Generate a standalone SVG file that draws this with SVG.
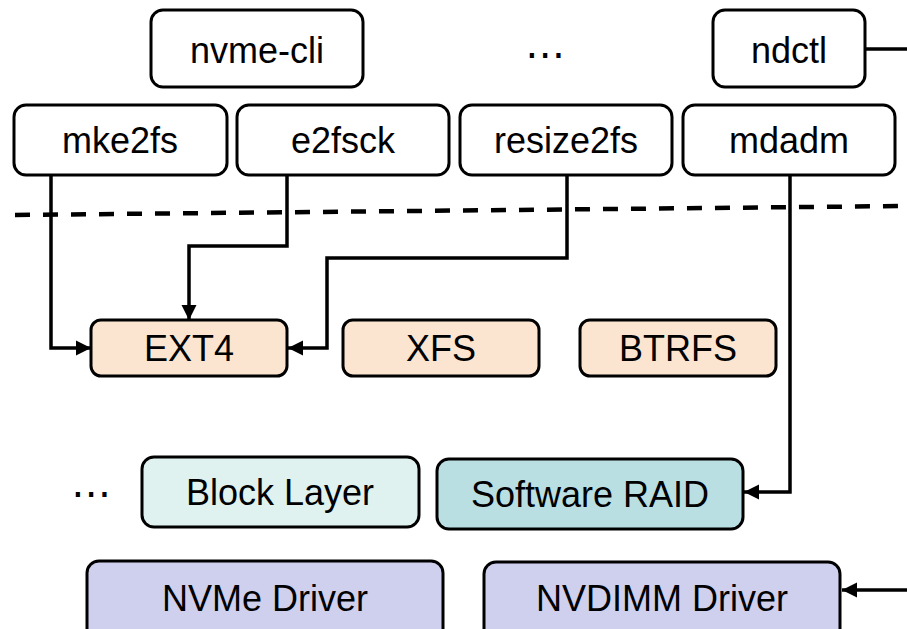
<svg xmlns="http://www.w3.org/2000/svg" width="907" height="629" viewBox="0 0 907 629">
  <style>
    .box { stroke: #000; stroke-width: 3; }
    .tool { fill: #fff; }
    .fs { fill: #FBE5D0; }
    .blk { fill: #DFF2F0; }
    .raid { fill: #B9DFE2; }
    .drv { fill: #CFCFEE; }
    text { font-family: "Liberation Sans", Arial, "DejaVu Sans", sans-serif; font-size: 36px; fill: #000; text-anchor: middle; }
    .dots { font-size: 40px; }
    .wire { fill: none; stroke: #000; stroke-width: 3.5; }
    .dash { fill: none; stroke: #000; stroke-width: 4.5; stroke-dasharray: 15 13; }
  </style>
  <defs>
    <marker id="arrow" viewBox="0 0 10 10" refX="10" refY="5" markerWidth="15" markerHeight="16" markerUnits="userSpaceOnUse" orient="auto">
      <path d="M0,0 L10,5 L0,10 Z" fill="#000"/>
    </marker>
  </defs>

  <rect width="907" height="629" fill="#fff"/>

  <!-- user / kernel boundary -->
  <line class="dash" x1="15" y1="215" x2="907" y2="206"/>

  <!-- user-space tools -->
  <g id="nvme-cli"><rect class="box tool" x="151" y="10" width="212" height="77" rx="12"/><text x="257" y="63">nvme-cli</text></g>
  <g id="more-tools"><text class="dots" x="545" y="68">⋯</text></g>
  <g id="ndctl"><rect class="box tool" x="713" y="10" width="152" height="77" rx="12"/><text x="789" y="63">ndctl</text></g>
  <g id="mke2fs"><rect class="box tool" x="14" y="105" width="213" height="70" rx="12"/><text x="120" y="153">mke2fs</text></g>
  <g id="e2fsck"><rect class="box tool" x="237" y="105" width="212" height="70" rx="12"/><text x="343" y="153">e2fsck</text></g>
  <g id="resize2fs"><rect class="box tool" x="460" y="105" width="212" height="70" rx="12"/><text x="566" y="153">resize2fs</text></g>
  <g id="mdadm"><rect class="box tool" x="683" y="105" width="212" height="70" rx="12"/><text x="789" y="153">mdadm</text></g>

  <!-- file systems -->
  <g id="ext4"><rect class="box fs" x="91" y="320" width="196" height="56" rx="10"/><text x="189" y="361">EXT4</text></g>
  <g id="xfs"><rect class="box fs" x="343" y="320" width="196" height="56" rx="10"/><text x="441" y="361">XFS</text></g>
  <g id="btrfs"><rect class="box fs" x="580" y="320" width="196" height="56" rx="10"/><text x="678" y="361">BTRFS</text></g>

  <!-- block layer -->
  <g id="more-block"><text class="dots" x="91" y="507">⋯</text></g>
  <g id="block-layer"><rect class="box blk" x="142" y="457" width="277" height="70" rx="12"/><text x="280" y="505">Block Layer</text></g>
  <g id="software-raid"><rect class="box raid" x="437" y="459" width="306" height="70" rx="12"/><text x="590" y="507">Software RAID</text></g>

  <!-- drivers -->
  <g id="nvme-driver"><rect class="box drv" x="87" y="561" width="356" height="80" rx="12"/><text x="265" y="611">NVMe Driver</text></g>
  <g id="nvdimm-driver"><rect class="box drv" x="484" y="562" width="356" height="80" rx="12"/><text x="662" y="611">NVDIMM Driver</text></g>

  <!-- connectors -->
  <g id="connectors">
    <polyline class="wire" points="51,175 51,348 91,348" marker-end="url(#arrow)"/>
    <polyline class="wire" points="287,175 287,246 189,246 189,320" marker-end="url(#arrow)"/>
    <polyline class="wire" points="567,175 567,258 327,258 327,348 288,348" marker-end="url(#arrow)"/>
    <polyline class="wire" points="790,175 790,492 744,492" marker-end="url(#arrow)"/>
    <line class="wire" x1="865" y1="49" x2="907" y2="49"/>
    <line class="wire" x1="907" y1="590" x2="842" y2="590" marker-end="url(#arrow)"/>
  </g>
</svg>
